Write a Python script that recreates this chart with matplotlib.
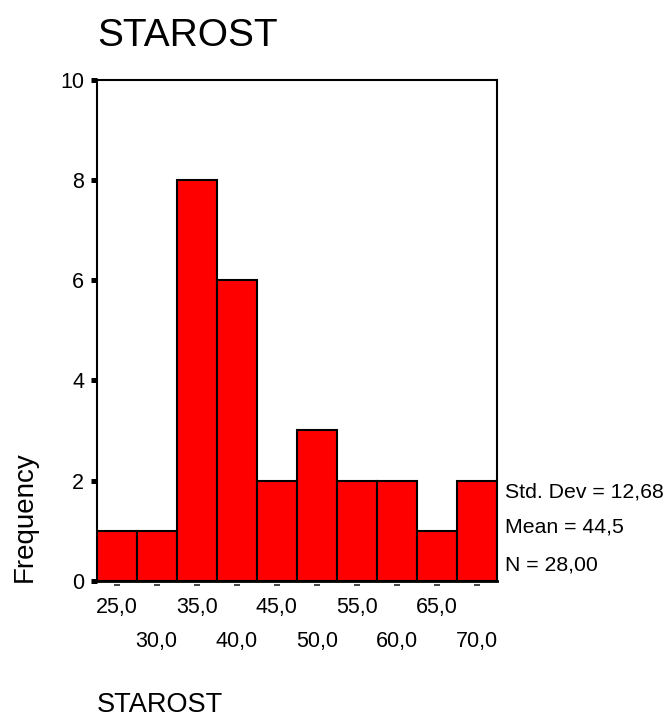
import matplotlib
matplotlib.use("Agg")
import matplotlib.pyplot as plt
import matplotlib.transforms as mtransforms

plt.rcParams['font.family'] = ['Liberation Sans', 'DejaVu Sans']

bin_centers = [25, 30, 35, 40, 45, 50, 55, 60, 65, 70]
frequencies = [1, 1, 8, 6, 2, 3, 2, 2, 1, 2]
bin_width = 5
row1_ticks = [25, 35, 45, 55, 65]
row1_labels = ["25,0", "35,0", "45,0", "55,0", "65,0"]
row2_ticks = [30, 40, 50, 60, 70]
row2_labels = ["30,0", "40,0", "50,0", "60,0", "70,0"]
y_ticks = [0, 2, 4, 6, 8, 10]
stats_lines = ["Std. Dev = 12,68", "Mean = 44,5", "N = 28,00"]
title = "STAROST"
x_label = "STAROST"
y_label = "Frequency"

W, H = 668, 718
fig = plt.figure(figsize=(W / 100, H / 100), dpi=100)
ax = fig.add_axes([96.7 / W, 1 - 580.7 / H, 400 / W, 500.7 / H])

ax.bar(bin_centers, frequencies, width=bin_width, color='#FF0000',
       edgecolor='black', linewidth=1.5, zorder=2)
ax.set_xlim(bin_centers[0] - bin_width / 2, bin_centers[-1] + bin_width / 2)
ax.set_ylim(0, 10)

for s in ax.spines.values():
    s.set_linewidth(1.5)
    s.set_color('black')
ax.spines['bottom'].set_linewidth(2)

ax.set_yticks(y_ticks)
ax.set_yticklabels([str(v) for v in y_ticks], fontsize=15.5)
ax.tick_params(axis='y', length=4, width=3.6, pad=5, color='black')

ax.set_xticks(row1_ticks)
ax.set_xticklabels(row1_labels, fontsize=15.5)
ax.set_xticks(row2_ticks, minor=True)
ax.set_xticklabels(row2_labels, minor=True, fontsize=15.5)
ax.tick_params(axis='x', which='major', length=0, pad=12)
ax.tick_params(axis='x', which='minor', length=0, pad=36)

# small dash tick marks under each bar center
trans = mtransforms.offset_copy(ax.get_xaxis_transform(), fig=fig, x=0, y=-4.5, units='dots')
ax.plot(bin_centers, [0] * len(bin_centers), linestyle='none', marker='_',
        markersize=4, markeredgewidth=1.4, color='#444444', transform=trans, clip_on=False)

fig.text(97 / W, 1 - 46 / H, title, fontsize=28, ha='left', va='baseline')
fig.text(97 / W, 1 - 712 / H, x_label, fontsize=19.5, ha='left', va='baseline')
fig.text(25 / W, 1 - 582 / H, y_label, fontsize=20, rotation=90, ha='center', va='bottom')

for txt, yb in zip(stats_lines, [498, 532.7, 570.7]):
    fig.text(505 / W, 1 - yb / H, txt, fontsize=15.3, ha='left', va='baseline')

fig.savefig("out.png", dpi=100)
